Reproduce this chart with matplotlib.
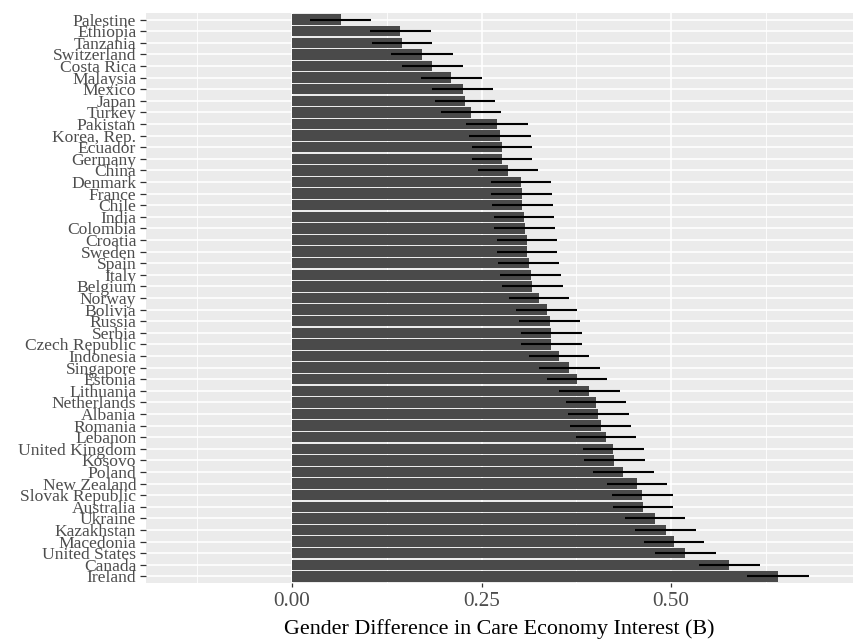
import numpy as np
import matplotlib
matplotlib.use("Agg")
import matplotlib.pyplot as plt
from matplotlib.ticker import FixedLocator

# countries, top to bottom as in the chart
countries = [
    "Palestine", "Ethiopia", "Tanzania", "Switzerland", "Costa Rica", "Malaysia",
    "Mexico", "Japan", "Turkey", "Pakistan", "Korea, Rep.", "Ecuador", "Germany",
    "China", "Denmark", "France", "Chile", "India", "Colombia", "Croatia", "Sweden",
    "Spain", "Italy", "Belgium", "Norway", "Bolivia", "Russia", "Serbia",
    "Czech Republic", "Indonesia", "Singapore", "Estonia", "Lithuania",
    "Netherlands", "Albania", "Romania", "Lebanon", "United Kingdom", "Kosovo",
    "Poland", "New Zealand", "Slovak Republic", "Australia", "Ukraine",
    "Kazakhstan", "Macedonia", "United States", "Canada", "Ireland",
]

# estimated coefficient (B)
estimate = [
    0.064, 0.143, 0.145, 0.171, 0.185, 0.210,
    0.225, 0.228, 0.236, 0.270, 0.274, 0.277, 0.277,
    0.285, 0.302, 0.303, 0.304, 0.306, 0.307, 0.310, 0.310,
    0.312, 0.315, 0.317, 0.326, 0.336, 0.340, 0.342,
    0.342, 0.352, 0.366, 0.376, 0.392,
    0.401, 0.404, 0.407, 0.414, 0.424, 0.425,
    0.437, 0.455, 0.462, 0.463, 0.479,
    0.493, 0.504, 0.519, 0.577, 0.641,
]

# half width of the interval
ci_half = [
    0.040, 0.040, 0.040, 0.041, 0.040, 0.040,
    0.040, 0.040, 0.040, 0.041, 0.041, 0.040, 0.040,
    0.040, 0.040, 0.040, 0.040, 0.040, 0.040, 0.040, 0.040,
    0.040, 0.040, 0.040, 0.040, 0.040, 0.040, 0.040,
    0.040, 0.040, 0.040, 0.040, 0.040,
    0.040, 0.040, 0.040, 0.040, 0.040, 0.040,
    0.040, 0.040, 0.040, 0.040, 0.040,
    0.040, 0.040, 0.040, 0.040, 0.041,
]

x_ticks = [0.0, 0.25, 0.5]
x_tick_labels = ["0.00", "0.25", "0.50"]
x_minor = [-0.125, 0.125, 0.375, 0.625]

plt.rcParams["font.family"] = ["Liberation Serif", "DejaVu Serif"]

fig = plt.figure(figsize=(8.56, 6.4), dpi=100)
ax = fig.add_axes([146 / 856, 56.7 / 640, 707 / 856, 570.6 / 640])
ax.set_facecolor("#EBEBEB")

ax.barh(countries, estimate, height=0.9, color="#4a4a4a", zorder=3)
ax.errorbar(estimate, countries, xerr=ci_half, fmt="none", ecolor="black",
            elinewidth=1.5, capsize=0, zorder=4)

ax.set_xlim(-0.1926, 0.740)
ax.set_ylim(len(countries) - 0.4, -0.6)

ax.xaxis.set_major_locator(FixedLocator(x_ticks))
ax.set_xticklabels(x_tick_labels)
ax.xaxis.set_minor_locator(FixedLocator(x_minor))

ax.grid(which="major", color="white", linewidth=1.2, zorder=0)
ax.grid(which="minor", axis="x", color="white", linewidth=0.6, zorder=0)
ax.set_axisbelow(True)

for s in ax.spines.values():
    s.set_visible(False)

ax.tick_params(axis="y", which="major", length=4, width=0.9, color="#333333",
               labelsize=12.6, labelcolor="#4D4D4D", pad=3)
ax.tick_params(axis="x", which="major", length=3, width=0.9, color="#333333",
               labelsize=15.2, labelcolor="#4D4D4D", pad=3.5)
ax.tick_params(axis="x", which="minor", length=0)

ax.set_xlabel("Gender Difference in Care Economy Interest (B)", fontsize=15.8,
              color="black", labelpad=5.5)

fig.savefig("out.png", dpi=100)
